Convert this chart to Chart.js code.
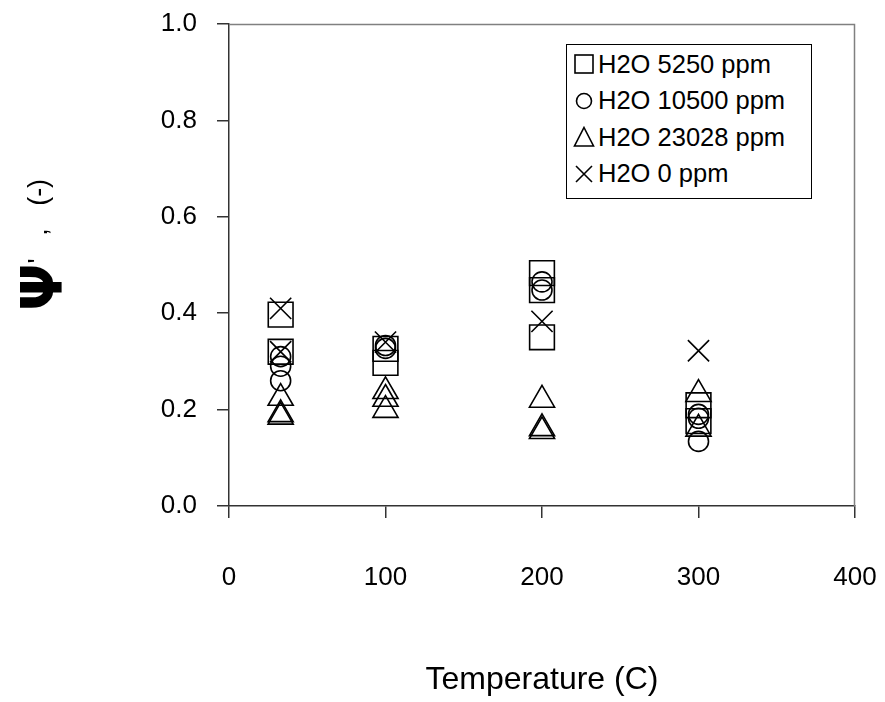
<!DOCTYPE html>
<html>
<head>
<meta charset="utf-8">
<script src="https://cdn.jsdelivr.net/npm/chart.js@4.4.1/dist/chart.umd.min.js"></script>
<style>
  html, body { margin: 0; padding: 0; background: #fff; overflow: hidden; }
  #wrap { position: relative; width: 885px; height: 702px; }
  #chart { display: block; }
  #legend {
    position: absolute; left: 566px; top: 44px; width: 246px; height: 155px;
    border: 1px solid #000; background: #fff; box-sizing: border-box;
    font-family: "Liberation Sans", Arial, sans-serif; font-size: 25.5px; color: #000;
    padding-top: 1px;
  }
  #legend .row { height: 36.5px; display: flex; align-items: center; }
  #legend svg { margin-left: 6px; margin-right: 3px; }
</style>
</head>
<body>
<div id="wrap">
  <canvas id="chart" width="885" height="702"></canvas>
  <div id="legend"></div>
</div>
<script>
// series labels
const seriesNames = ['H2O 5250 ppm', 'H2O 10500 ppm', 'H2O 23028 ppm', 'H2O 0 ppm'];

// H2O 5250 ppm (squares)
const sqTemp = [33, 33, 100, 100, 200, 200, 200, 300, 300];
const sqPsi  = [0.397, 0.32, 0.326, 0.297, 0.483, 0.448, 0.35, 0.209, 0.176];

// H2O 10500 ppm (circles)
const ciTemp = [33, 33, 33, 100, 100, 200, 200, 300, 300, 300];
const ciPsi  = [0.31, 0.29, 0.26, 0.333, 0.327, 0.465, 0.448, 0.19, 0.182, 0.134];

// H2O 23028 ppm (triangles)
const trTemp = [33, 33, 33, 100, 100, 100, 200, 200, 200, 300, 300];
const trPsi  = [0.224, 0.19, 0.185, 0.238, 0.222, 0.199, 0.22, 0.161, 0.155, 0.232, 0.16];

// H2O 0 ppm (crosses)
const crTemp = [33, 33, 100, 200, 300];
const crPsi  = [0.41, 0.32, 0.34, 0.383, 0.322];

const xTicks = [0, 100, 200, 300, 400];
const yTicks = [0.0, 0.2, 0.4, 0.6, 0.8, 1.0];

function pts(t, v) {
    return t.map((x, i) => ({ x: x, y: v[i] }));
}

const font = '"Liberation Sans", Arial, sans-serif';

// y title drawn by hand so the psi can be bigger than the rest
const yTitle = {
    id: 'yTitle',
    afterDraw(chart) {
        const ctx = chart.ctx;
        ctx.save();
        ctx.translate(44, 245);
        ctx.rotate(-Math.PI / 2);
        ctx.fillStyle = '#000';
        ctx.textBaseline = 'middle';
        const big = 'bold 56px "DejaVu Sans", sans-serif';
        const small = '27px ' + font;
        ctx.font = big;
        const w1 = ctx.measureText('Ψ').width;
        ctx.font = small;
        const rest = "'   ,   (-)";
        const w2 = ctx.measureText(rest).width;
        let x = -(w1 + w2) / 2;
        ctx.font = big;
        ctx.fillText('Ψ', x, 3);
        ctx.font = small;
        ctx.fillText(rest, x + w1, -4);
        ctx.restore();
    }
};

// gray frame on top and right of the plot area
const frame = {
    id: 'frame',
    afterDraw(chart) {
        const a = chart.chartArea;
        const ctx = chart.ctx;
        ctx.save();
        ctx.strokeStyle = '#808080';
        ctx.lineWidth = 1.5;
        ctx.beginPath();
        ctx.moveTo(a.left, a.top + 0.5);
        ctx.lineTo(a.right - 0.5, a.top + 0.5);
        ctx.lineTo(a.right - 0.5, a.bottom);
        ctx.stroke();
        ctx.restore();
    }
};

function ds(i, t, v, style, r) {
    return {
        label: seriesNames[i],
        data: pts(t, v),
        pointStyle: style,
        pointRadius: r,
        pointHoverRadius: r,
        pointBorderWidth: 1.6,
        borderColor: '#000',
        backgroundColor: 'rgba(0,0,0,0)',
        pointBackgroundColor: 'rgba(0,0,0,0)',
        showLine: false
    };
}

const ctx = document.getElementById('chart').getContext('2d');
const chart = new Chart(ctx, {
    type: 'scatter',
    data: {
        datasets: [
            ds(0, sqTemp, sqPsi, 'rect', 17.5),
            ds(1, ciTemp, ciPsi, 'circle', 10),
            ds(2, trTemp, trPsi, 'triangle', 14.5),
            ds(3, crTemp, crPsi, 'crossRot', 15)
        ]
    },
    options: {
        responsive: false,
        animation: false,
        layout: { padding: { left: 0, right: 30, top: 24, bottom: 0 } },
        plugins: {
            legend: { display: false },
            tooltip: { enabled: false }
        },
        scales: {
            x: {
                type: 'linear',
                min: 0, max: 400,
                afterBuildTicks: s => { s.ticks = xTicks.map(v => ({ value: v })); },
                afterFit: s => {
                    s.height = 196;
                    // tick padding is large, keep it out of the side padding
                    s.paddingLeft = 24;
                    s.paddingRight = 24;
                },
                ticks: {
                    color: '#000', padding: 44,
                    font: { family: font, size: 26 },
                    callback: v => String(v)
                },
                grid: { drawOnChartArea: false, tickLength: 12, color: '#333', lineWidth: 1.5 },
                border: { color: '#333', width: 1.5 },
                title: {
                    display: true, text: 'Temperature (C)', color: '#000',
                    font: { family: font, size: 32 },
                    padding: { top: 0, bottom: 3 }
                }
            },
            y: {
                type: 'linear',
                min: 0, max: 1,
                afterBuildTicks: s => { s.ticks = yTicks.map(v => ({ value: v })); },
                afterFit: s => {
                    s.width = 229;
                    s.paddingTop = 16;
                    s.paddingBottom = 16;
                },
                ticks: {
                    color: '#000', padding: 20,
                    font: { family: font, size: 26 },
                    callback: v => v.toFixed(1)
                },
                grid: { drawOnChartArea: false, tickLength: 12, color: '#333', lineWidth: 1.5 },
                border: { color: '#333', width: 1.5 }
            }
        }
    },
    plugins: [yTitle, frame]
});

// legend as html, symbols as small svgs
const symbols = [
    '<rect x="2" y="2" width="18" height="18" fill="none" stroke="#000" stroke-width="1.6"/>',
    '<circle cx="11" cy="11" r="7.5" fill="none" stroke="#000" stroke-width="1.6"/>',
    '<polygon points="11,1.5 20.5,20 1.5,20" fill="none" stroke="#000" stroke-width="1.6"/>',
    '<path d="M3,3 L19,19 M19,3 L3,19" stroke="#000" stroke-width="1.6"/>'
];
const legend = document.getElementById('legend');
seriesNames.forEach((name, i) => {
    const row = document.createElement('div');
    row.className = 'row';
    row.innerHTML = '<svg width="22" height="22">' + symbols[i] + '</svg><span>' + name + '</span>';
    legend.appendChild(row);
});
</script>
</body>
</html>
